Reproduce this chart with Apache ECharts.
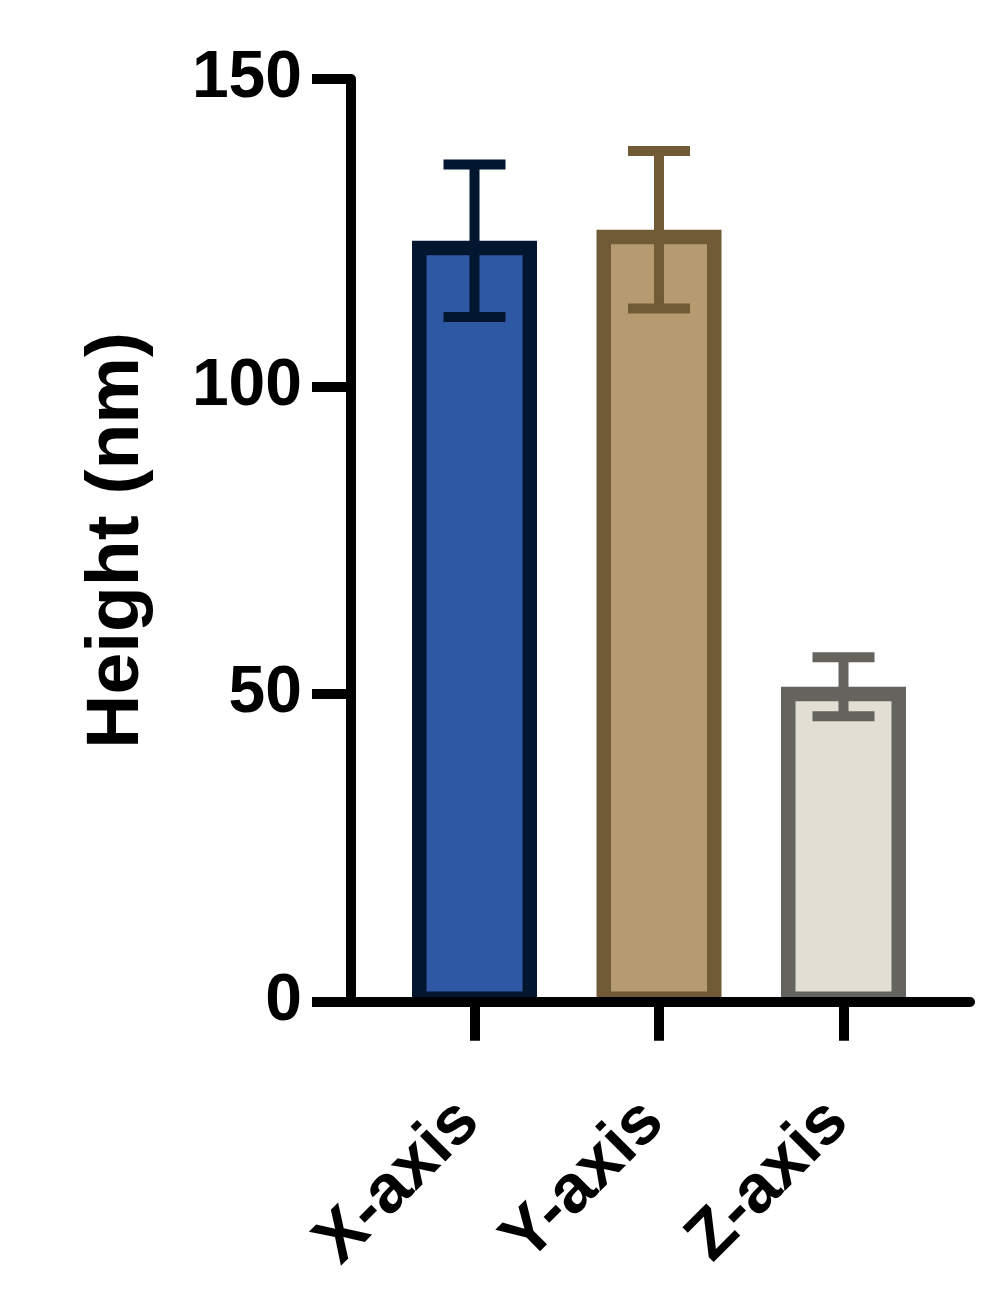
<!DOCTYPE html>
<html>
<head>
<meta charset="utf-8">
<script src="https://cdn.jsdelivr.net/npm/echarts@6/dist/echarts.min.js"></script>
<style>
html,body{margin:0;padding:0;background:#fff;}
#chart{width:1008px;height:1301px;}
</style>
</head>
<body>
<div id="chart"></div>
<script>
const categories = ['X-axis', 'Y-axis', 'Z-axis'];
const means = [123.7, 125.5, 51.2];
const sds = [12.4, 12.8, 4.8];
const yMin = 0, yMax = 150, yStep = 50;

const fillColors = ['#2E58A3', '#B59B6F', '#E2DED4'];
const edgeColors = ['#03162F', '#715A36', '#64635E'];

const chart = echarts.init(document.getElementById('chart'));
const FONT = 'Liberation Sans, Arial, sans-serif';
const GRID_TOP = 79, GRID_BOTTOM = 1301 - 1001.7;

const data = categories.map((c, i) => [i, means[i], sds[i]]);

function renderItem(params, api) {
  const i = api.value(0);
  const m = api.value(1);
  const sd = api.value(2);
  const top = api.coord([i, m]);
  const base = api.coord([i, 0]);
  const hi = api.coord([i, m + sd]);
  const lo = api.coord([i, m - sd]);
  const cx = top[0];
  const outerW = 125, bw = 14.5, capW = 62, lw = 10;
  const x0 = cx - outerW / 2 + bw / 2;
  const y0 = top[1] + bw / 2;
  const y1 = base[1] - 3;
  return {
    type: 'group',
    children: [
      {
        type: 'rect',
        shape: { x: x0, y: y0, width: outerW - bw, height: y1 - y0 },
        style: { fill: fillColors[i], stroke: edgeColors[i], lineWidth: bw }
      },
      {
        type: 'line',
        shape: { x1: cx, y1: hi[1], x2: cx, y2: lo[1] },
        style: { stroke: edgeColors[i], lineWidth: lw }
      },
      {
        type: 'line',
        shape: { x1: cx - capW / 2, y1: hi[1], x2: cx + capW / 2, y2: hi[1] },
        style: { stroke: edgeColors[i], lineWidth: lw }
      },
      {
        type: 'line',
        shape: { x1: cx - capW / 2, y1: lo[1], x2: cx + capW / 2, y2: lo[1] },
        style: { stroke: edgeColors[i], lineWidth: lw }
      }
    ]
  };
}

const option = {
  backgroundColor: '#ffffff',
  animation: false,
  grid: [
    { left: 351, right: 38, top: GRID_TOP, bottom: GRID_BOTTOM },
    { left: 382.25, right: 72.25, top: GRID_TOP, bottom: GRID_BOTTOM }
  ],
  xAxis: [
    {
      gridIndex: 0, type: 'value', min: 0, max: 1, z: 10,
      axisLine: { show: true, onZero: false, lineStyle: { color: '#000', width: 10 } },
      axisTick: { show: false }, axisLabel: { show: false }, splitLine: { show: false }
    },
    {
      gridIndex: 1, type: 'category', data: categories, z: 10,
      axisLine: { show: false },
      axisTick: { show: true, alignWithLabel: true, length: 39, lineStyle: { color: '#000', width: 10 } },
      axisLabel: {
        rotate: 45, margin: 104, padding: [0, 8, 0, 0], color: '#000', fontSize: 68, fontWeight: 'bold', fontFamily: FONT
      },
      splitLine: { show: false }
    }
  ],
  yAxis: [
    {
      gridIndex: 0, type: 'value', min: yMin, max: yMax, interval: yStep, z: 10,
      name: 'Height (nm)', nameLocation: 'middle', nameGap: 196,
      nameTextStyle: { color: '#000', fontSize: 75, fontWeight: 'bold', fontFamily: FONT },
      axisLine: { show: true, onZero: false, lineStyle: { color: '#000', width: 10 } },
      axisTick: { show: true, length: 39, lineStyle: { color: '#000', width: 10 } },
      axisLabel: { margin: 49, color: '#000', fontSize: 66, fontWeight: 'bold', fontFamily: FONT },
      splitLine: { show: false }
    },
    {
      gridIndex: 1, type: 'value', min: yMin, max: yMax, interval: yStep, show: false
    }
  ],
  series: [
    {
      type: 'custom',
      xAxisIndex: 1, yAxisIndex: 1,
      data: data,
      renderItem: renderItem,
      clip: false
    }
  ]
};
chart.setOption(option);
</script>
</body>
</html>
